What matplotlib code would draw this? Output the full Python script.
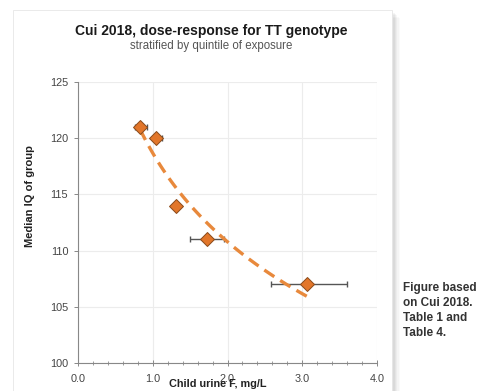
import numpy as np
import matplotlib
matplotlib.use("Agg")
import matplotlib.pyplot as plt
from matplotlib.patches import Rectangle

plt.rcParams['font.family'] = ['Liberation Sans', 'DejaVu Sans']

# data
urine_f = [0.83, 1.04, 1.31, 1.73, 3.06]
median_iq = [121, 120, 114, 111, 107]
err_low = [0.76, 1.00, 1.31, 1.50, 2.58]
err_high = [0.92, 1.12, 1.31, 1.95, 3.60]

title = "Cui 2018, dose-response for TT genotype"
subtitle = "stratified by quintile of exposure"
note = "Figure based\non Cui 2018.\nTable 1 and\nTable 4."

fig = plt.figure(figsize=(4.95, 3.91), dpi=100)
fig.patch.set_facecolor('white')

# card with soft shadow
for i, a in enumerate([0.045, 0.04, 0.035, 0.03, 0.025, 0.02]):
    off = (i + 1) * 1.3
    fig.patches.append(Rectangle(((13 + off) / 495, -0.1), (392 - 13) / 495, (391 - 10) / 391 + 0.1 - off / 391,
                                 transform=fig.transFigure, facecolor='black', alpha=a,
                                 edgecolor='none', zorder=0))
fig.patches.append(Rectangle((13 / 495, -0.1), (392 - 13) / 495, (391 - 10) / 391 + 0.1,
                             transform=fig.transFigure, facecolor='white',
                             edgecolor='#e6e6e6', linewidth=0.6, zorder=1))

ax = fig.add_axes([78 / 495, 28 / 391, 299 / 495, 281 / 391])
ax.set_zorder(2)
ax.patch.set_alpha(0)

xerr = [np.array(urine_f) - np.array(err_low), np.array(err_high) - np.array(urine_f)]
ax.errorbar(urine_f, median_iq, xerr=xerr, fmt='none', ecolor='#555555',
            elinewidth=1.0, capsize=2.5, capthick=1.0, zorder=3)

# logarithmic trend line fitted to the points
b, a0 = np.polyfit(np.log(urine_f), median_iq, 1)
xs = np.linspace(min(urine_f), max(urine_f), 100)
ax.plot(xs, a0 + b * np.log(xs), linestyle=(0, (3.6, 2.1)), color='#E8893C',
        linewidth=2.4, zorder=4)

ax.plot(urine_f, median_iq, linestyle='none', marker='D', markersize=7.3,
        markerfacecolor='#E2762A', markeredgecolor='#8a4a1a', markeredgewidth=0.7, zorder=5)

ax.set_xlim(0, 4)
ax.set_ylim(100, 125)
ax.set_xticks([0, 1, 2, 3, 4])
ax.set_xticklabels(['0.0', '1.0', '2.0', '3.0', '4.0'])
ax.set_xticks(np.arange(0, 4.01, 0.2), minor=True)
ax.set_yticks([100, 105, 110, 115, 120, 125])

ax.grid(True, which='major', color='#ececec', linewidth=0.8, zorder=0)
ax.set_axisbelow(True)
for s in ['top', 'right']:
    ax.spines[s].set_visible(False)
for s in ['left', 'bottom']:
    ax.spines[s].set_color('#888888')
    ax.spines[s].set_linewidth(0.8)
ax.tick_params(axis='both', which='major', labelsize=7.8, colors='#888888',
               labelcolor='#444444', length=3, width=0.7)
ax.tick_params(axis='x', which='major', direction='inout', length=4, pad=6)
ax.tick_params(axis='x', which='minor', direction='inout', length=3, width=0.6, colors='#888888')
ax.tick_params(axis='y', which='major', direction='out', length=3, pad=4)

ax.set_xlabel("Child urine F, mg/L", fontsize=7.8, fontweight='bold', color='#222222')
ax.xaxis.label.set_va('center')
ax.xaxis.set_label_coords((218 - 78) / 299, -(384 - 363) / 281)
ax.set_ylabel("Median IQ of group", fontsize=8, fontweight='bold', color='#222222')
ax.yaxis.label.set_va('center')
ax.yaxis.set_label_coords((30 - 78) / 299, (363 - 196) / 281)

fig.text(211 / 495, 1 - 31 / 391, title, fontsize=10, fontweight='bold', color='#1a1a1a',
         ha='center', va='center')
fig.text(211 / 495, 1 - 46 / 391, subtitle, fontsize=8.3, color='#555555', ha='center', va='center')

fig.text(403 / 495, 1 - 282 / 391, note, fontsize=8.5, fontweight='bold', color='#333333',
         ha='left', va='top', linespacing=1.32)

fig.savefig("out.png", dpi=100, facecolor='white')
